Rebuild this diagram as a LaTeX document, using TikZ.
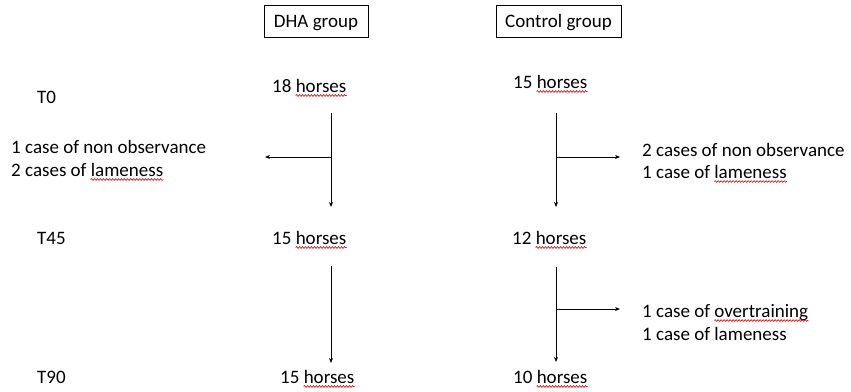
\documentclass[tikz,border=0pt]{standalone}
\usepackage{fontspec}
\setmainfont{Carlito}
\usetikzlibrary{arrows.meta,decorations.pathmorphing}

\newcommand\figfont{\fontsize{19}{23}\selectfont}
% red wavy underline under the last word of a text node
\newcommand\wavyword[2]{%
  \node[lbl,anchor=base east] (#1-w) at (#1.base east) {\phantom{#2}};
  \draw[wavy] ([yshift=-3.5pt]#1-w.base west) -- ([yshift=-3.5pt]#1-w.base east);}

\begin{document}
\begin{tikzpicture}[x=1pt,y=-1pt,
  lbl/.style={anchor=base west,inner sep=0pt,font=\figfont},
  groupbox/.style={draw,line width=0.8pt,font=\figfont,inner xsep=0pt,inner ysep=8pt,
                   text height=14pt,text depth=2pt},
  flow/.style={line width=0.8pt,-{Stealth[length=5pt,width=4pt]}},
  wavy/.style={draw=red!85!black,line width=0.6pt,decorate,
               decoration={snake,amplitude=0.9pt,segment length=3pt}}]
\useasboundingbox (0,0) rectangle (851,391);

% group headers
\node[groupbox,minimum width=104pt] (dha) at (316,21) {DHA group};
\node[groupbox,minimum width=125pt] (ctl) at (558.5,21) {Control group};

% time points
\node[lbl] (t0)  at (37,103) {T0};
\node[lbl] (t45) at (37,244) {T45};
\node[lbl] (t90) at (37,383) {T90};

% horse counts
\node[lbl] (dha0)  at (272,92)  {18 horses};
\node[lbl] (ctl0)  at (513,88)  {15 horses};
\node[lbl] (dha45) at (272,244) {15 horses};
\node[lbl] (ctl45) at (512,244) {12 horses};
\node[lbl] (dha90) at (280,383) {15 horses};
\node[lbl] (ctl90) at (513,383) {10 horses};

% withdrawals
\node[lbl] (out1a) at (11,153)  {1 case of non observance};
\node[lbl] (out1b) at (11,176)  {2 cases of lameness};
\node[lbl] (out2a) at (642,156) {2 cases of non observance};
\node[lbl] (out2b) at (642,178) {1 case of lameness};
\node[lbl] (out3a) at (642,317) {1 case of overtraining};
\node[lbl] (out3b) at (642,340) {1 case of lameness};

% connector end points
\coordinate (d1top) at (331,113);
\coordinate (d1mid) at (331,157);
\coordinate (d1bot) at (331,207);
\coordinate (d1out) at (265,157);
\coordinate (c1top) at (556,113);
\coordinate (c1mid) at (556,157);
\coordinate (c1bot) at (556,207);
\coordinate (c1out) at (620,157);
\coordinate (d2top) at (331,266);
\coordinate (d2bot) at (331,363);
\coordinate (c2top) at (556,267);
\coordinate (c2mid) at (556,309);
\coordinate (c2bot) at (556,362);
\coordinate (c2out) at (620,309);

% flow arrows
\draw[flow] (d1top) -- (d1bot);
\draw[flow] (d1mid) -- (d1out);
\draw[flow] (c1top) -- (c1bot);
\draw[flow] (c1mid) -- (c1out);
\draw[flow] (d2top) -- (d2bot);
\draw[flow] (c2top) -- (c2bot);
\draw[flow] (c2mid) -- (c2out);

% spelling marks
\wavyword{dha0}{horses}
\wavyword{ctl0}{horses}
\wavyword{dha45}{horses}
\wavyword{ctl45}{horses}
\wavyword{dha90}{horses}
\wavyword{ctl90}{horses}
\wavyword{out1b}{lameness}
\wavyword{out2b}{lameness}
\wavyword{out3a}{overtraining}
\end{tikzpicture}
\end{document}
